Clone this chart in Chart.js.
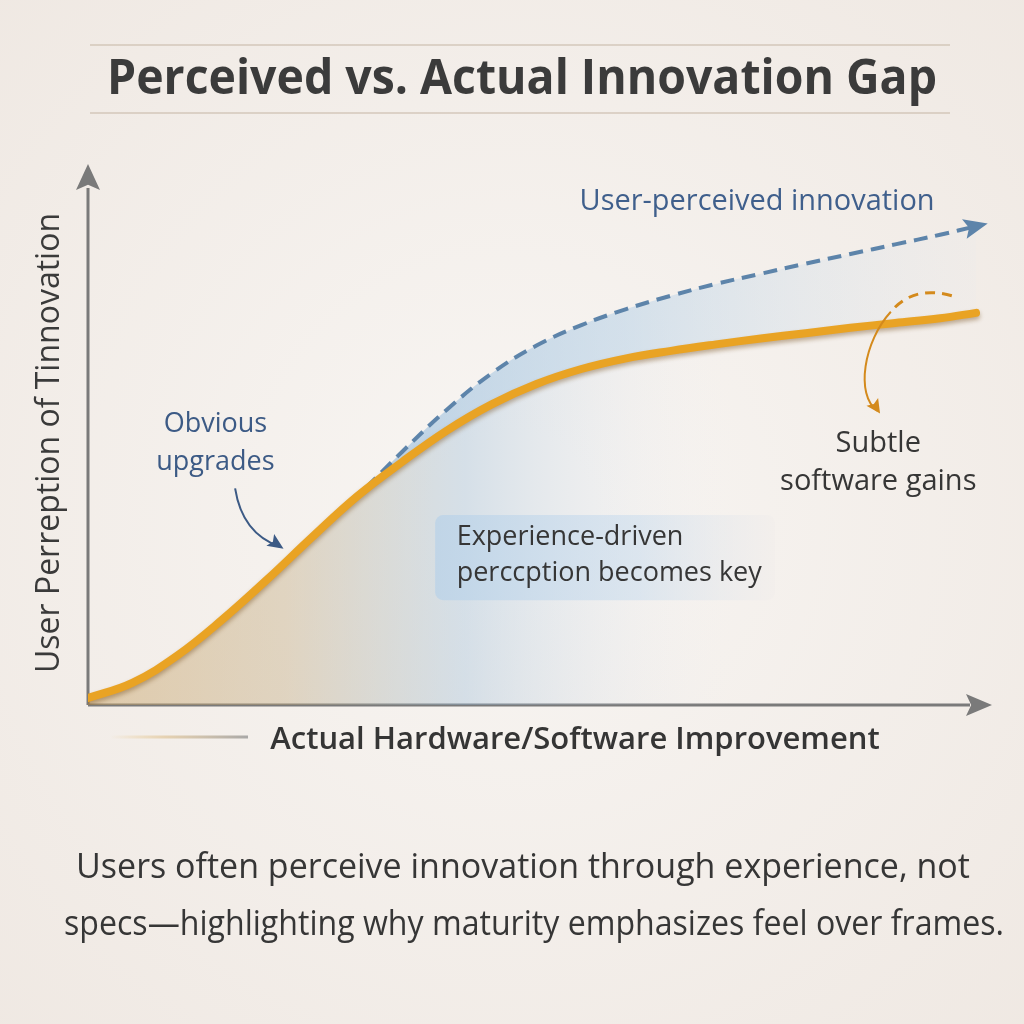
<!DOCTYPE html>
<html lang="en">
<head>
<meta charset="UTF-8">
<title>Perceived vs. Actual Innovation Gap</title>
<script src="https://cdn.jsdelivr.net/npm/chart.js@4"></script>
<style>
  html, body { margin: 0; padding: 0; background: #f3eee9; }
  canvas { display: block; }
</style>
</head>
<body>
<canvas id="gapChart" width="1024" height="1024"></canvas>
<script>
// x: actual improvement (0-100), y: perceived innovation (0-100)
const improvement = [0, 5, 10, 15, 20, 25, 30, 35, 40, 45, 50, 55, 60, 65, 70, 75, 80, 85, 90, 95, 99];
const actualInnovation = [1.3, 4.2, 9.3, 16, 23.5, 31.4, 39, 45.4, 51.3, 56.2, 60.0, 62.8, 64.8, 66.2, 67.4, 68.5, 69.5, 70.5, 71.4, 72.3, 73.3];
const perceivedInnovation = [1.3, 4.2, 9.3, 16, 23.5, 31.4, 39, 47.3, 55.2, 62.0, 67.2, 71.0, 74.0, 76.5, 78.7, 80.6, 82.5, 84.3, 86.1, 87.9, 89.5];

const titleText = 'Perceived vs. Actual Innovation Gap';
const xTitle = 'Actual Hardware/Software Improvement';
const yTitle = 'User Perreption of Tinnovation';
const footerLines = ['Users often perceive innovation through experience, not',
                     'specs\u2014highlighting why maturity emphasizes feel over frames.'];

const FONT = '"Open Sans", "Noto Sans", sans-serif';

function toPoints(ys) {
    return improvement.map((x, i) => ({ x: x, y: ys[i] }));
}

function arrowHead(ctx, tipX, tipY, angle, len, half, color) {
    ctx.save();
    ctx.translate(tipX, tipY);
    ctx.rotate(angle);
    ctx.beginPath();
    ctx.moveTo(0, 0);
    ctx.lineTo(-len, -half);
    ctx.lineTo(-len * 0.8, 0);
    ctx.lineTo(-len, half);
    ctx.closePath();
    ctx.fillStyle = color;
    ctx.fill();
    ctx.restore();
}

function text(ctx, str, x, y, font, color, align, maxW) {
    ctx.font = font;
    ctx.fillStyle = color;
    ctx.textAlign = align || 'left';
    ctx.textBaseline = 'middle';
    if (maxW) ctx.fillText(str, x, y, maxW); else ctx.fillText(str, x, y);
}

const decor = {
    id: 'decor',
    beforeDraw(chart) {
        const { ctx, width, height } = chart;
        ctx.save();
        const g = ctx.createRadialGradient(width / 2, height / 2, 80, width / 2, height / 2, 760);
        g.addColorStop(0, '#f7f4f1');
        g.addColorStop(1, '#efe8e2');
        ctx.fillStyle = g;
        ctx.fillRect(0, 0, width, height);

        // title with rules
        ctx.strokeStyle = 'rgba(200,185,170,0.55)';
        ctx.lineWidth = 2;
        ctx.beginPath();
        ctx.moveTo(90, 45); ctx.lineTo(950, 45);
        ctx.moveTo(90, 113); ctx.lineTo(950, 113);
        ctx.stroke();
        text(ctx, titleText, 522, 80, 'bold 48px ' + FONT, '#3b3b3b', 'center', 830);
        ctx.restore();
    },
    beforeDatasetsDraw(chart) {
        const { ctx, chartArea: a } = chart;
        ctx.save();
        ctx.strokeStyle = '#7a7a7a';
        ctx.lineWidth = 3;
        ctx.beginPath();
        ctx.moveTo(a.left, a.bottom);
        ctx.lineTo(a.left, a.top + 18);
        ctx.moveTo(a.left, a.bottom);
        ctx.lineTo(a.right - 15, a.bottom);
        ctx.stroke();
        arrowHead(ctx, a.left, a.top - 6, -Math.PI / 2, 26, 12, '#7a7a7a');
        arrowHead(ctx, a.right + 7, a.bottom, 0, 26, 11, '#7a7a7a');
        ctx.restore();
    },
    beforeDatasetDraw(chart, args) {
        if (args.index !== 0) return;
        const ctx = chart.ctx;
        ctx.save();
        ctx.shadowColor = 'rgba(110,70,20,0.4)';
        ctx.shadowBlur = 4;
        ctx.shadowOffsetY = 3;
    },
    afterDatasetDraw(chart, args) {
        if (args.index !== 0) return;
        chart.ctx.restore();
    },
    afterDraw(chart) {
        const { ctx, scales } = chart;
        const px = v => scales.x.getPixelForValue(v);
        const py = v => scales.y.getPixelForValue(v);
        ctx.save();

        // arrow at end of perceived curve
        const pts = chart.getDatasetMeta(1).data;
        const last = pts[pts.length - 1], prev = pts[pts.length - 2];
        const ang = Math.atan2(last.y - prev.y, last.x - prev.x);
        arrowHead(ctx, last.x + 12 * Math.cos(ang), last.y + 12 * Math.sin(ang), ang, 24, 10, '#5d84aa');

        // axis titles
        text(ctx, xTitle, 575, 740, '600 31px ' + FONT, '#353535', 'center', 612);
        const lg = ctx.createLinearGradient(110, 0, 248, 0);
        lg.addColorStop(0, 'rgba(235,195,120,0)');
        lg.addColorStop(0.4, 'rgba(220,190,140,0.6)');
        lg.addColorStop(1, 'rgba(150,150,150,0.8)');
        ctx.strokeStyle = lg;
        ctx.lineWidth = 3;
        ctx.beginPath();
        ctx.moveTo(110, 737); ctx.lineTo(248, 737);
        ctx.stroke();

        ctx.save();
        ctx.translate(50, 443);
        ctx.rotate(-Math.PI / 2);
        text(ctx, yTitle, 0, 0, '32px ' + FONT, '#3a3a3a', 'center', 460);
        ctx.restore();

        // annotation: user-perceived
        text(ctx, 'User-perceived innovation', px(54.8), py(94), '29px ' + FONT, '#3f5f8c', 'left', 355);

        // annotation: obvious upgrades
        text(ctx, 'Obvious', px(14.2), py(52.5), '27px ' + FONT, '#3c5a85', 'center');
        text(ctx, 'upgrades', px(14.2), py(45.4), '27px ' + FONT, '#3c5a85', 'center');
        ctx.strokeStyle = '#3c5a85';
        ctx.lineWidth = 2;
        ctx.beginPath();
        ctx.moveTo(px(16.4), py(40.5));
        ctx.quadraticCurveTo(px(17.2), py(32), px(21.4), py(29.6));
        ctx.stroke();
        arrowHead(ctx, px(21.8), py(29.2), Math.atan2(8, 12), 16, 7, '#3c5a85');

        // annotation: subtle software gains
        ctx.strokeStyle = '#d48a1c';
        ctx.lineWidth = 3;
        ctx.setLineDash([10, 7]);
        ctx.beginPath();
        ctx.moveTo(px(96.3), py(76.5));
        ctx.quadraticCurveTo(px(92), py(78.5), px(89.5), py(73.5));
        ctx.stroke();
        ctx.setLineDash([]);
        ctx.lineWidth = 2;
        ctx.beginPath();
        ctx.moveTo(px(89.5), py(73.5));
        ctx.bezierCurveTo(px(86.5), py(68), px(85.5), py(58), px(88), py(55));
        ctx.stroke();
        arrowHead(ctx, px(88.3), py(54.5), Math.atan2(12, 8), 14, 7, '#d48a1c');
        text(ctx, 'Subtle', px(88.1), py(48.8), '29px ' + FONT, '#363636', 'center');
        text(ctx, 'software gains', px(88.1), py(41.7), '29px ' + FONT, '#363636', 'center');

        // annotation box
        const bx = px(38.7), by = py(35.5), bw = px(76.6) - bx, bh = py(19.6) - by;
        const bg = ctx.createLinearGradient(bx, 0, bx + bw, 0);
        bg.addColorStop(0, 'rgba(185,210,232,0.75)');
        bg.addColorStop(0.6, 'rgba(205,222,238,0.6)');
        bg.addColorStop(1, 'rgba(240,236,234,0.4)');
        ctx.fillStyle = bg;
        ctx.beginPath();
        ctx.roundRect(bx, by, bw, bh, 8);
        ctx.fill();
        text(ctx, 'Experience-driven', px(41.1), py(31.4), '27px ' + FONT, '#363636', 'left');
        text(ctx, 'perccption becomes key', px(41.1), py(24.7), '27px ' + FONT, '#363636', 'left', 312);

        // footer
        text(ctx, footerLines[0], 523, 868, '34px ' + FONT, '#363636', 'center', 898);
        text(ctx, footerLines[1], 534, 925, '34px ' + FONT, '#363636', 'center', 940);
        ctx.restore();
    }
};

function underFill(context) {
    const { ctx, chartArea } = context.chart;
    if (!chartArea) return 'rgba(0,0,0,0)';
    const g = ctx.createLinearGradient(chartArea.left, 0, chartArea.right, 0);
    g.addColorStop(0, 'rgba(200,160,95,0.45)');
    g.addColorStop(0.22, 'rgba(190,165,120,0.38)');
    g.addColorStop(0.42, 'rgba(150,185,215,0.35)');
    g.addColorStop(0.6, 'rgba(200,215,232,0.12)');
    g.addColorStop(0.72, 'rgba(240,240,240,0)');
    g.addColorStop(1, 'rgba(240,240,240,0)');
    return g;
}

function gapFill(context) {
    const { ctx, chartArea } = context.chart;
    if (!chartArea) return 'rgba(0,0,0,0)';
    const g = ctx.createLinearGradient(chartArea.left, 0, chartArea.right, 0);
    g.addColorStop(0.3, 'rgba(135,178,215,0.55)');
    g.addColorStop(0.6, 'rgba(165,200,230,0.42)');
    g.addColorStop(1, 'rgba(225,232,240,0.1)');
    return g;
}

const ctx = document.getElementById('gapChart').getContext('2d');
const gapChart = new Chart(ctx, {
    type: 'line',
    data: {
        datasets: [
            {
                label: 'Actual innovation',
                data: toPoints(actualInnovation),
                borderColor: '#e9a324',
                borderWidth: 8,
                borderCapStyle: 'round',
                backgroundColor: underFill,
                fill: 'origin',
                tension: 0.4,
                pointRadius: 0
            },
            {
                label: 'User-perceived innovation',
                data: toPoints(perceivedInnovation),
                borderColor: '#5d84aa',
                borderWidth: 4,
                borderDash: [14, 8],
                backgroundColor: gapFill,
                fill: '-1',
                tension: 0.4,
                pointRadius: 0
            }
        ]
    },
    options: {
        responsive: false,
        devicePixelRatio: 1,
        animation: false,
        layout: { padding: { left: 88, top: 170, right: 39, bottom: 319 } },
        plugins: {
            legend: { display: false },
            tooltip: { enabled: false }
        },
        scales: {
            x: { type: 'linear', min: 0, max: 100, display: false },
            y: { min: 0, max: 100, display: false }
        }
    },
    plugins: [decor]
});
</script>
</body>
</html>
